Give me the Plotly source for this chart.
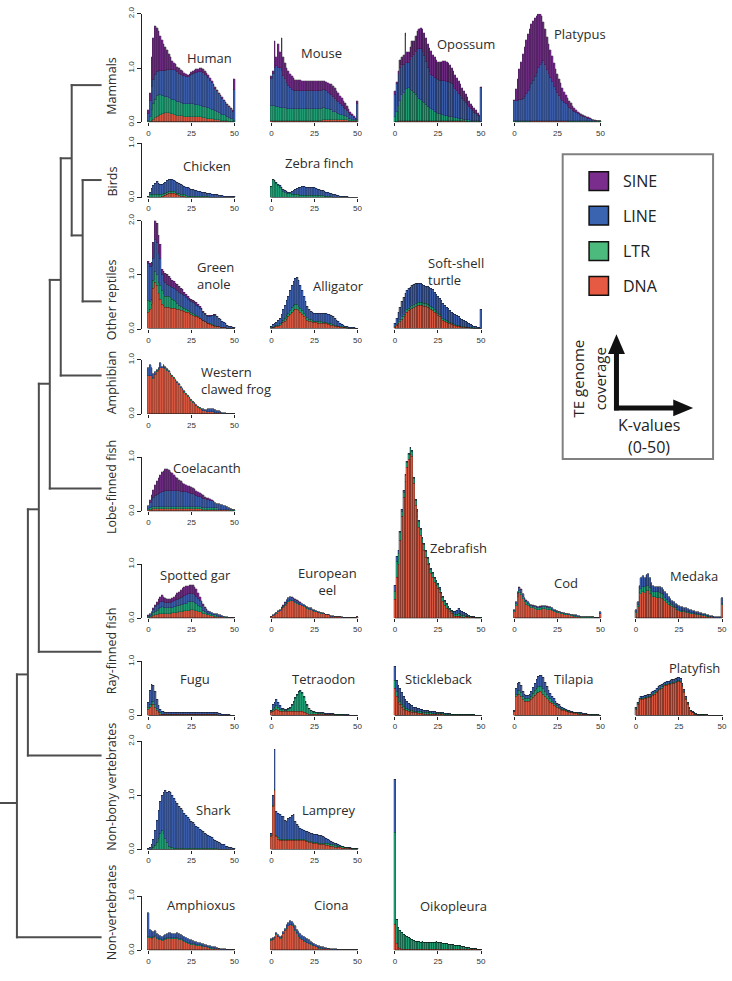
import plotly.graph_objects as go

K = list(range(51))
LAYERS = ["DNA", "LTR", "LINE", "SINE"]  # stacking order, bottom -> top
BAR_COLORS = {"SINE": "#6b2a80", "LINE": "#3a5ca8", "LTR": "#1f9c72", "DNA": "#d6563f"}
LEGEND_COLORS = {"SINE": "#7b2d8e", "LINE": "#3a63b0", "LTR": "#4cba7c", "DNA": "#e65a43"}

# ---------------- data (TE genome coverage per K-value 0..50) ----------------
human = dict(
    DNA=[0.00,0.01,0.03,0.05,0.08,0.10,0.12,0.14,0.15,0.16,0.17,0.17,0.17,0.16,0.15,0.14,0.13,0.12,0.12,0.11,0.11,0.10,0.10,0.10,0.10,0.10,0.10,0.10,0.10,0.09,0.09,0.09,0.08,0.08,0.07,0.07,0.06,0.06,0.05,0.05,0.04,0.04,0.03,0.03,0.02,0.02,0.02,0.01,0.01,0.01,0.00],
    LTR=[0.03,0.09,0.19,0.28,0.34,0.38,0.38,0.36,0.34,0.32,0.30,0.29,0.28,0.28,0.27,0.27,0.27,0.26,0.25,0.24,0.23,0.23,0.23,0.23,0.23,0.23,0.23,0.22,0.22,0.23,0.22,0.21,0.21,0.20,0.20,0.19,0.18,0.17,0.17,0.16,0.15,0.13,0.13,0.11,0.11,0.09,0.08,0.07,0.06,0.05,0.02],
    LINE=[0.12,0.30,0.43,0.45,0.46,0.45,0.45,0.45,0.46,0.47,0.48,0.50,0.51,0.53,0.55,0.55,0.55,0.55,0.53,0.53,0.52,0.52,0.51,0.51,0.53,0.55,0.57,0.59,0.60,0.61,0.62,0.63,0.62,0.60,0.58,0.55,0.53,0.49,0.45,0.41,0.38,0.35,0.32,0.30,0.27,0.25,0.22,0.20,0.17,0.14,0.58],
    SINE=[0.07,0.15,0.55,0.77,0.90,0.82,0.73,0.65,0.57,0.50,0.45,0.37,0.31,0.23,0.17,0.14,0.12,0.10,0.10,0.09,0.08,0.06,0.05,0.04,0.04,0.05,0.05,0.06,0.06,0.06,0.07,0.07,0.07,0.07,0.06,0.06,0.05,0.05,0.04,0.03,0.03,0.03,0.02,0.02,0.02,0.02,0.02,0.02,0.02,0.02,0.20],
)
mouse = dict(
    DNA=[0.02]*30 + [0.04]*15 + [0.02]*6,
    LTR=[0.28,0.28,0.28,0.27,0.26,0.25,0.25,0.24,0.24,0.23,0.23,0.23,0.23,0.23,0.23,0.23,0.23,0.23,0.23,0.23,0.23,0.23,0.23,0.23,0.23,0.23,0.23,0.23,0.23,0.23,0.23,0.22,0.21,0.20,0.19,0.18,0.16,0.15,0.13,0.12,0.10,0.09,0.08,0.07,0.06,0.05,0.04,0.03,0.02,0.02,0.02],
    LINE=[0.50,0.60,0.70,0.75,0.72,0.73,0.68,0.60,0.54,0.47,0.42,0.38,0.35,0.33,0.33,0.33,0.33,0.33,0.33,0.33,0.33,0.33,0.33,0.33,0.33,0.33,0.33,0.33,0.33,0.33,0.33,0.33,0.32,0.31,0.30,0.29,0.27,0.25,0.23,0.21,0.19,0.17,0.15,0.13,0.11,0.10,0.08,0.06,0.04,0.02,0.30],
    SINE=[0.05,0.05,0.50,0.16,0.45,0.30,0.60,0.34,0.30,0.28,0.28,0.27,0.25,0.24,0.20,0.20,0.20,0.20,0.19,0.19,0.19,0.19,0.19,0.19,0.19,0.18,0.18,0.18,0.18,0.18,0.17,0.17,0.17,0.17,0.17,0.20,0.20,0.19,0.18,0.17,0.16,0.15,0.13,0.11,0.09,0.07,0.06,0.05,0.03,0.02,0.06],
)
opossum = dict(
    DNA=[0.00,0.01] + [0.03]*24 + [0.02]*15 + [0.01]*10,
    LTR=[0.10,0.19,0.27,0.37,0.47,0.52,0.57,0.59,0.60,0.57,0.54,0.51,0.47,0.44,0.41,0.38,0.35,0.32,0.29,0.26,0.23,0.21,0.19,0.17,0.15,0.13,0.13,0.12,0.11,0.10,0.09,0.08,0.08,0.07,0.07,0.06,0.06,0.05,0.04,0.04,0.03,0.04,0.03,0.03,0.02,0.02,0.02,0.01,0.01,0.01,0.00],
    LINE=[0.40,0.50,0.60,0.60,0.55,0.50,1.00,0.48,0.47,0.55,0.63,0.71,0.80,0.86,0.91,0.95,0.92,0.87,0.80,0.71,0.67,0.64,0.63,0.62,0.62,0.62,0.61,0.62,0.63,0.64,0.64,0.64,0.62,0.61,0.57,0.54,0.49,0.46,0.42,0.38,0.35,0.31,0.28,0.24,0.22,0.18,0.15,0.13,0.10,0.08,0.63],
    SINE=[0.08,0.05,0.05,0.15,0.15,0.20,0.05,0.20,0.20,0.25,0.30,0.25,0.30,0.35,0.37,0.39,0.42,0.43,0.43,0.45,0.45,0.44,0.40,0.38,0.35,0.34,0.36,0.36,0.37,0.37,0.37,0.36,0.33,0.30,0.29,0.26,0.25,0.23,0.22,0.20,0.18,0.16,0.14,0.12,0.09,0.09,0.08,0.07,0.06,0.04,0.01],
)
platypus = dict(
    DNA=[0.01]*10 + [0.02]*21 + [0.01]*20,
    LTR=[0.01]*51,
    LINE=[0.38,0.38,0.38,0.39,0.40,0.42,0.45,0.50,0.56,0.62,0.67,0.73,0.81,0.89,0.97,1.03,1.07,1.10,1.02,0.93,0.87,0.79,0.71,0.63,0.57,0.51,0.46,0.41,0.37,0.33,0.30,0.28,0.25,0.22,0.19,0.17,0.15,0.13,0.11,0.10,0.08,0.07,0.06,0.05,0.04,0.03,0.02,0.01,0.00,0.00,0.00],
    SINE=[0.02,0.21,0.40,0.57,0.70,0.82,0.93,1.00,1.05,1.08,1.11,1.12,1.09,1.05,1.00,0.94,0.86,0.72,0.67,0.62,0.55,0.52,0.48,0.44,0.38,0.36,0.31,0.28,0.23,0.20,0.17,0.15,0.13,0.11,0.10,0.08,0.06,0.05,0.04,0.03,0.03,0.03,0.02,0.02,0.02,0.02,0.01,0.01,0.01,0.00,0.01],
)
chicken = dict(
    DNA=[0.01,0.01,0.01,0.01,0.01,0.01,0.01,0.01,0.02,0.03,0.04,0.06,0.07,0.08,0.08,0.07,0.06,0.05,0.04,0.03,0.02,0.02,0.01,0.01,0.01,0.01,0.01,0.01,0.01,0.01,0.01,0.01,0.01,0.01,0.01,0.01,0,0,0,0,0,0,0,0,0,0,0,0,0,0,0],
    LTR=[0.02,0.04,0.05,0.05,0.05,0.05,0.04,0.04,0.04,0.04,0.04,0.04,0.04,0.04,0.04,0.04,0.03,0.03,0.03,0.03,0.03,0.03,0.03,0.02,0.02,0.02,0.02,0.02,0.02,0.02,0.02,0.02,0.01,0.01,0.01,0.01,0.01,0.01,0.01,0.01,0.01,0.01,0.01,0.01,0.01,0.01,0.01,0,0,0,0],
    LINE=[0.00,0.05,0.11,0.16,0.21,0.24,0.22,0.20,0.18,0.19,0.20,0.21,0.22,0.22,0.21,0.21,0.21,0.20,0.19,0.18,0.17,0.15,0.15,0.15,0.14,0.13,0.12,0.11,0.10,0.09,0.08,0.07,0.07,0.07,0.06,0.05,0.06,0.05,0.05,0.04,0.04,0.03,0.03,0.03,0.02,0.02,0.02,0.02,0.02,0.02,0.02],
    SINE=[0]*51,
)
zebra_finch = dict(
    DNA=[0]*10 + [0.01]*21 + [0]*20,
    LTR=[0.20,0.33,0.30,0.26,0.22,0.19,0.15,0.12,0.10,0.08,0.07,0.06,0.05,0.05,0.04,0.04,0.04,0.03,0.03,0.03,0.03,0.03,0.03,0.03,0.03,0.03,0.03,0.03,0.03,0.03,0.03,0.02,0.02,0.02,0.02,0.02,0.01,0.01,0.01,0.01,0.01,0.01,0.01,0.01,0.01,0,0,0,0,0,0],
    LINE=[0.00,0.00,0.02,0.02,0.03,0.03,0.03,0.03,0.03,0.03,0.02,0.03,0.05,0.07,0.10,0.12,0.13,0.15,0.16,0.16,0.15,0.15,0.15,0.15,0.15,0.14,0.13,0.12,0.11,0.10,0.09,0.10,0.08,0.07,0.06,0.05,0.05,0.04,0.03,0.03,0.02,0.02,0.01,0.01,0.01,0.01,0.01,0.01,0.01,0.01,0.01],
    SINE=[0]*51,
)
green_anole = dict(
    DNA=[0.30,0.35,0.45,0.75,0.85,0.80,0.65,0.55,0.45,0.43,0.40,0.40,0.39,0.38,0.38,0.38,0.37,0.36,0.35,0.34,0.33,0.32,0.31,0.30,0.28,0.27,0.25,0.23,0.22,0.21,0.20,0.17,0.15,0.13,0.11,0.09,0.08,0.07,0.06,0.05,0.04,0.04,0.03,0.03,0.02,0.02,0.01,0.01,0.01,0.01,0.00],
    LTR=[0.23,0.15,0.10,0.15,0.20,0.20,0.20,0.25,0.25,0.22,0.20,0.20,0.21,0.20,0.17,0.14,0.13,0.11,0.09,0.08,0.07,0.06,0.05,0.04,0.04,0.03,0.03,0.03,0.02,0.01,0.00,0.01,0.01,0.01,0.01,0.01,0.01,0.01,0.01,0.01,0.01,0,0,0,0,0,0,0,0,0,0],
    LINE=[0.67,0.65,0.60,0.40,0.60,0.60,0.55,0.50,0.30,0.25,0.25,0.22,0.20,0.20,0.21,0.22,0.22,0.23,0.24,0.24,0.24,0.23,0.22,0.21,0.20,0.20,0.20,0.20,0.20,0.20,0.18,0.17,0.15,0.13,0.12,0.13,0.14,0.16,0.18,0.19,0.18,0.16,0.14,0.11,0.09,0.07,0.06,0.04,0.03,0.02,0.02],
    SINE=[0.05,0.05,0.07,0.30,0.35,0.35,0.32,0.25,0.10,0.15,0.17,0.18,0.17,0.15,0.14,0.13,0.12,0.11,0.10,0.09,0.08,0.07,0.06,0.05,0.04,0.04,0.04,0.04,0.04,0.03,0.03,0.02,0.01,0.01,0.01,0.01,0.01,0.01,0.01,0.01,0,0,0,0,0,0,0,0,0,0,0],
)
alligator = dict(
    DNA=[0.01,0.02,0.03,0.04,0.05,0.07,0.09,0.11,0.14,0.18,0.22,0.26,0.30,0.33,0.35,0.35,0.33,0.30,0.26,0.22,0.19,0.16,0.14,0.13,0.12,0.11,0.11,0.10,0.10,0.10,0.10,0.09,0.09,0.08,0.08,0.07,0.06,0.05,0.05,0.04,0.03,0.03,0.02,0.02,0.01,0.01,0.01,0.01,0.01,0.00,0.00],
    LTR=[0.01,0.01,0.01,0.02,0.02,0.03,0.03,0.04,0.05,0.06,0.07,0.08,0.09,0.10,0.10,0.10,0.09,0.08,0.07,0.06,0.05,0.05,0.04,0.04,0.03,0.03,0.03,0.03,0.03,0.03,0.02,0.02,0.02,0.02,0.02,0.02,0.02,0.01,0.01,0.01,0.01,0.01,0.01,0.01,0.01,0,0,0,0,0,0],
    LINE=[0.03,0.05,0.06,0.06,0.08,0.10,0.15,0.20,0.24,0.28,0.31,0.36,0.41,0.45,0.48,0.50,0.48,0.42,0.37,0.32,0.26,0.21,0.18,0.15,0.15,0.15,0.14,0.15,0.15,0.15,0.16,0.17,0.17,0.17,0.16,0.15,0.14,0.13,0.10,0.08,0.06,0.04,0.04,0.02,0.02,0.02,0.02,0.01,0.01,0.01,0.01],
    SINE=[0]*51,
)
softshell_turtle = dict(
    DNA=[0.03,0.06,0.10,0.14,0.18,0.22,0.26,0.30,0.33,0.36,0.38,0.40,0.42,0.43,0.44,0.44,0.43,0.42,0.41,0.40,0.38,0.36,0.34,0.31,0.28,0.25,0.22,0.19,0.16,0.14,0.12,0.10,0.09,0.08,0.07,0.06,0.05,0.04,0.04,0.03,0.03,0.02,0.02,0.02,0.01,0.01,0.01,0.01,0.00,0.00,0.00],
    LTR=[0.01,0.02,0.03,0.04,0.05,0.05,0.05,0.05,0.05,0.05,0.05,0.05,0.05,0.05,0.05,0.05,0.05,0.05,0.05,0.05,0.05,0.05,0.05,0.04,0.04,0.04,0.04,0.04,0.03,0.03,0.03,0.03,0.02,0.02,0.02,0.02,0.02,0.02,0.01,0.01,0.01,0.01,0.01,0.01,0.01,0.01,0,0,0,0,0],
    LINE=[0.06,0.12,0.17,0.22,0.27,0.31,0.34,0.35,0.36,0.36,0.37,0.37,0.36,0.36,0.35,0.34,0.33,0.33,0.33,0.33,0.33,0.33,0.33,0.33,0.32,0.31,0.30,0.29,0.28,0.27,0.25,0.24,0.23,0.21,0.19,0.18,0.17,0.16,0.15,0.14,0.12,0.11,0.09,0.07,0.06,0.05,0.04,0.03,0.03,0.02,0.35],
    SINE=[0]*51,
)
western_clawed_frog = dict(
    DNA=[0.70,0.70,0.70,0.65,0.72,0.78,0.82,0.85,0.85,0.86,0.84,0.80,0.77,0.73,0.69,0.65,0.61,0.57,0.53,0.48,0.44,0.40,0.36,0.32,0.28,0.25,0.21,0.18,0.15,0.12,0.10,0.08,0.06,0.05,0.04,0.04,0.04,0.04,0.04,0.03,0.03,0.02,0.02,0.01,0.01,0.01,0,0,0,0,0],
    LTR=[0.01]*31 + [0]*20,
    LINE=[0.15,0.19,0.14,0.09,0.05,0.03,0.02,0.09,0.02,0.03,0.02,0.02,0.01,0.01,0.01,0.01,0.01,0.01,0.01,0.01,0.01,0.01,0.01,0.01,0.01,0.01,0.01,0.01,0.01,0.01,0.01,0.02,0.03,0.03,0.04,0.05,0.06,0.06,0.05,0.05,0.03,0.03,0.02,0.02,0.01,0.01,0.01,0.01,0.01,0.00,0.00],
    SINE=[0]*51,
)
coelacanth = dict(
    DNA=[0.02,0.03,0.03] + [0.04]*28 + [0.03]*10 + [0.02]*7 + [0.01]*3,
    LTR=[0.02,0.03] + [0.04]*29 + [0.03]*10 + [0.01]*10,
    LINE=[0.06,0.09,0.13,0.17,0.20,0.22,0.24,0.26,0.27,0.28,0.29,0.30,0.30,0.30,0.30,0.30,0.29,0.29,0.29,0.28,0.28,0.27,0.27,0.26,0.25,0.24,0.23,0.22,0.20,0.19,0.18,0.18,0.17,0.16,0.15,0.14,0.13,0.12,0.11,0.10,0.08,0.10,0.09,0.08,0.07,0.06,0.04,0.03,0.02,0.01,0.00],
    SINE=[0.00,0.05,0.10,0.15,0.20,0.25,0.30,0.33,0.37,0.39,0.40,0.40,0.38,0.35,0.32,0.29,0.27,0.24,0.21,0.19,0.16,0.15,0.13,0.13,0.13,0.13,0.12,0.11,0.10,0.08,0.07,0.07,0.06,0.05,0.04,0.04,0.03,0.02,0.01,0,0,0,0,0,0,0,0,0,0,0,0],
)
spotted_gar = dict(
    DNA=[0.01,0.02,0.03,0.04,0.05,0.06,0.07,0.08,0.08,0.08,0.08,0.08,0.08,0.08,0.09,0.09,0.10,0.10,0.11,0.11,0.12,0.13,0.13,0.14,0.14,0.15,0.15,0.14,0.13,0.12,0.11,0.10,0.08,0.07,0.06,0.05,0.04,0.04,0.03,0.03,0.03,0.02,0.02,0.02,0.01,0.01,0.01,0.01,0,0,0],
    LTR=[0.01,0.02,0.03,0.05,0.07,0.08,0.10,0.11,0.12,0.11,0.10,0.10,0.10,0.10,0.10,0.11,0.11,0.12,0.12,0.13,0.13,0.14,0.14,0.15,0.15,0.15,0.15,0.14,0.13,0.11,0.09,0.08,0.06,0.05,0.04,0.03,0.03,0.02,0.02,0.02,0.01,0.01,0.01,0.01,0.01,0,0,0,0,0,0],
    LINE=[0.02,0.03,0.05,0.07,0.09,0.10,0.10,0.10,0.10,0.10,0.10,0.10,0.10,0.10,0.10,0.11,0.12,0.12,0.13,0.14,0.14,0.14,0.15,0.15,0.15,0.15,0.15,0.15,0.14,0.13,0.11,0.09,0.08,0.06,0.05,0.04,0.04,0.03,0.03,0.03,0.03,0.03,0.02,0.01,0.01,0.01,0.01,0.00,0.01,0.01,0.01],
    SINE=[0.01,0.01,0.01,0.02,0.04,0.06,0.09,0.11,0.12,0.11,0.09,0.08,0.07,0.08,0.09,0.09,0.10,0.12,0.13,0.14,0.16,0.16,0.17,0.16,0.17,0.17,0.16,0.15,0.13,0.10,0.08,0.05,0.04,0.03,0.02,0.02,0.01,0.01,0,0,0,0,0,0,0,0,0,0,0,0,0],
)
european_eel = dict(
    DNA=[0.02,0.04,0.06,0.08,0.11,0.13,0.16,0.19,0.23,0.27,0.30,0.32,0.31,0.30,0.28,0.27,0.25,0.24,0.22,0.21,0.19,0.17,0.16,0.15,0.13,0.12,0.11,0.10,0.09,0.08,0.07,0.07,0.06,0.05,0.04,0.03,0.03,0.03,0.02,0.02,0.02,0.01,0.01,0.01,0.01,0.01,0.01,0.00,0.00,0.00,0.02],
    LTR=[0,0,0] + [0.01]*28 + [0]*20,
    LINE=[0.01,0.01,0.01,0.01,0.01,0.02,0.02,0.03,0.04,0.05,0.06,0.06,0.06,0.05,0.05,0.04,0.04,0.03,0.03,0.02,0.02,0.03,0.02,0.02,0.02,0.02,0.01,0.01,0.01,0.01,0.01,0.00,0.00,0.00,0.01,0.01,0.01,0.00,0.01,0.00,0.00,0.01,0,0,0,0,0,0.01,0.01,0.01,0],
    SINE=[0]*6 + [0.01]*15 + [0]*30,
)
zebrafish = dict(
    DNA=[0.35,0.75,1.00,1.43,1.88,2.23,2.53,2.78,2.93,3.03,2.98,2.48,2.08,1.88,1.68,1.53,1.38,1.26,1.13,1.00,0.90,0.83,0.75,0.67,0.61,0.55,0.47,0.39,0.31,0.24,0.18,0.16,0.12,0.09,0.05,0.03,0.03,0.04,0.03,0.02,0.01,0.03,0.03,0.02,0.02,0.01,0.01,0,0,0,0],
    LTR=[0.15,0.30,0.20,0.15] + [0.10]*17 + [0.07]*10 + [0.04]*10 + [0.01]*10,
    LINE=[0.10,0.10,0.05] + [0.02]*31 + [0.03,0.05,0.08,0.10,0.08,0.06,0.05,0.04,0.03,0.02,0.01,0.01,0.01,0.01,0.01,0.01,0.01],
    SINE=[0]*51,
)
cod = dict(
    DNA=[0.11,0.23,0.39,0.46,0.42,0.35,0.30,0.25,0.22,0.20,0.19,0.18,0.17,0.16,0.15,0.16,0.17,0.17,0.17,0.16,0.15,0.15,0.13,0.11,0.11,0.10,0.09,0.08,0.07,0.06,0.05,0.05,0.05,0.04,0.04,0.03,0.03,0.02,0.02,0.01,0.01,0.01,0.01,0.01,0.01,0.01,0.01,0.01,0.01,0.01,0.08],
    LTR=[0.02,0.04,0.05,0.05,0.05,0.05,0.04,0.04,0.04,0.03,0.03,0.03,0.03,0.03,0.03,0.03,0.03,0.03,0.03,0.03,0.03,0.03,0.03,0.03,0.02,0.02,0.02,0.02,0.02,0.02,0.02,0.02,0.01,0.01,0.01,0.01,0.01,0.01,0.01,0.01,0.01,0.01,0.01,0.01,0.01,0.01,0.01,0,0,0,0],
    LINE=[0.02,0.03,0.04,0.05,0.05,0.04,0.03,0.03,0.03,0.03,0.02,0.02,0.02,0.02,0.02,0.02,0.02,0.02,0.02,0.02,0.02,0.02,0.02,0.02,0.02,0.02,0.01,0.01,0.01,0.01,0.01,0.01,0.01,0.01,0.01,0.01,0.01,0.01,0.01,0.01,0.01,0.01,0,0,0,0,0,0,0,0,0.04],
    SINE=[0,0] + [0.01]*19 + [0]*30,
)
medaka = dict(
    DNA=[0.10,0.20,0.40,0.45,0.48,0.47,0.50,0.50,0.45,0.42,0.40,0.39,0.38,0.38,0.37,0.36,0.34,0.31,0.28,0.25,0.23,0.20,0.18,0.16,0.15,0.13,0.12,0.12,0.11,0.10,0.10,0.09,0.08,0.08,0.07,0.06,0.06,0.05,0.05,0.04,0.04,0.03,0.03,0.02,0.02,0.02,0.01,0.01,0.01,0.01,0.25],
    LTR=[0.02,0.04,0.07,0.09,0.10,0.10,0.10,0.10,0.10,0.09,0.09,0.09,0.10,0.10,0.10,0.09,0.08,0.07,0.06,0.05,0.04,0.04,0.03,0.03,0.03,0.02,0.02,0.02,0.02,0.02,0.02,0.02,0.02,0.02,0.01,0.01,0.01,0.01,0.01,0.01,0.01,0.01,0.01,0.01,0.01,0,0,0,0,0,0.02],
    LINE=[0.03,0.06,0.13,0.21,0.20,0.18,0.20,0.22,0.20,0.14,0.11,0.10,0.10,0.10,0.10,0.10,0.10,0.10,0.10,0.10,0.09,0.08,0.08,0.07,0.06,0.07,0.07,0.06,0.06,0.06,0.05,0.05,0.05,0.04,0.05,0.05,0.04,0.04,0.03,0.03,0.02,0.02,0.01,0.01,0.01,0.01,0.02,0.01,0.01,0.01,0.10],
    SINE=[0]*51,
)
fugu = dict(
    DNA=[0.12,0.15,0.20,0.20,0.15,0.10,0.05,0.03] + [0.02]*33 + [0.01]*10,
    LTR=[0.03,0.05,0.06,0.06,0.05,0.04,0.03,0.02] + [0.01]*33 + [0]*10,
    LINE=[0.10,0.26,0.32,0.29,0.25,0.16,0.10,0.07,0.05,0.04] + [0.03]*17 + [0.02]*14 + [0.03,0.03,0.02,0.02,0.01,0.01,0.01,0,0,0],
    SINE=[0]*51,
)
tetraodon = dict(
    DNA=[0.06,0.08,0.10,0.12,0.10,0.08,0.07,0.07,0.07,0.07,0.07,0.07,0.07,0.07,0.07,0.07,0.07,0.07,0.07,0.06,0.05,0.04,0.03,0.03,0.02,0.02,0.02,0.02,0.02,0.02,0.02,0.02,0.02,0.02,0.02,0.02,0.02,0.01,0.01,0.01,0.01,0.01,0.01,0.01,0.01,0.01,0.01,0,0,0,0],
    LTR=[0.02,0.04,0.05,0.06,0.05,0.04,0.04,0.04,0.03,0.03,0.04,0.06,0.11,0.18,0.24,0.31,0.36,0.38,0.34,0.27,0.20,0.14,0.10,0.06,0.05,0.04,0.03,0.02,0.02,0.02,0.02,0.01,0.01,0.01,0.01,0.01,0.01,0.01,0.01,0.01,0.01,0.01,0,0,0,0,0,0.01,0.01,0.01,0.01],
    LINE=[0.02,0.08,0.10,0.12,0.10,0.06,0.03] + [0.02]*15 + [0.01]*24 + [0]*5,
    SINE=[0]*51,
)
stickleback = dict(
    DNA=[0.50,0.35,0.25,0.20,0.15,0.12,0.10,0.09,0.08,0.07,0.06,0.05,0.05,0.05,0.04,0.04,0.04,0.03,0.03,0.03,0.03,0.03,0.02,0.02,0.02,0.02,0.02,0.02,0.02] + [0.01]*18 + [0]*4,
    LTR=[0.15,0.10,0.08,0.07,0.06,0.05,0.04,0.04,0.03,0.03,0.03,0.03,0.03,0.03,0.03,0.03] + [0.02]*17 + [0.01]*18,
    LINE=[0.25,0.20,0.22,0.23,0.21,0.19,0.16,0.13,0.12,0.10,0.09,0.08,0.07,0.06,0.06,0.05,0.05,0.05,0.04,0.04,0.03,0.03,0.03,0.03,0.02,0.02] + [0.01]*15 + [0]*10,
    SINE=[0]*51,
)
tilapia = dict(
    DNA=[0.07,0.35,0.40,0.40,0.36,0.30,0.27,0.26,0.26,0.27,0.30,0.34,0.38,0.41,0.43,0.44,0.43,0.40,0.36,0.32,0.28,0.25,0.22,0.19,0.17,0.15,0.13,0.11,0.10,0.09,0.08,0.07,0.06,0.05,0.05,0.04,0.04,0.03,0.03,0.03,0.02,0.02,0.02,0.02,0.01,0.01,0.01,0.01,0.01,0.01,0.00],
    LTR=[0.01,0.05,0.06,0.07,0.06,0.05,0.05,0.05,0.05,0.05,0.06,0.07,0.08,0.09,0.10,0.10,0.10,0.10,0.09,0.08,0.07,0.06,0.05,0.04,0.04,0.03,0.03,0.03,0.02,0.02] + [0.01]*21,
    LINE=[0.02,0.10,0.14,0.15,0.13,0.10,0.08,0.07,0.07,0.08,0.09,0.11,0.14,0.16,0.19,0.21,0.21,0.20,0.17,0.14,0.12,0.10,0.09,0.08,0.06,0.05,0.04,0.03,0.03,0.02,0.02,0.02,0.02,0.02,0.01,0.01,0.01,0.01,0.01,0.01,0.01,0.01,0.01,0,0,0,0,0,0,0,0],
    SINE=[0]*51,
)
platyfish = dict(
    DNA=[0.11,0.20,0.26,0.29,0.30,0.31,0.32,0.33,0.34,0.36,0.38,0.40,0.43,0.46,0.49,0.51,0.53,0.55,0.56,0.57,0.58,0.59,0.60,0.61,0.63,0.63,0.61,0.53,0.42,0.30,0.21,0.13,0.08,0.05,0.03,0.02,0.01,0.01,0.01,0.01,0.01,0.02,0.01,0.01,0.01,0.01,0.01,0.01,0,0,0],
    LTR=[0.02]*31 + [0.01]*10 + [0]*10,
    LINE=[0.02,0.03] + [0.04]*10 + [0.05]*16 + [0.04,0.03,0.02,0.02,0.01,0.01,0.01,0.01,0.01] + [0]*14,
    SINE=[0]*51,
)
shark = dict(
    DNA=[0,0,0] + [0.01]*38 + [0]*10,
    LTR=[0,0,0.01,0.03,0.07,0.12,0.20,0.30,0.35,0.30,0.20,0.12,0.06,0.04,0.03] + [0.02]*16 + [0.01]*15 + [0]*5,
    LINE=[0.02,0.05,0.09,0.16,0.27,0.42,0.51,0.59,0.64,0.74,0.89,0.92,1.01,1.00,0.96,0.92,0.87,0.82,0.77,0.73,0.69,0.65,0.61,0.57,0.53,0.50,0.47,0.44,0.41,0.38,0.35,0.33,0.31,0.28,0.26,0.24,0.22,0.20,0.18,0.16,0.14,0.13,0.11,0.09,0.08,0.06,0.06,0.05,0.04,0.03,0.02],
    SINE=[0]*51,
)
lamprey = dict(
    DNA=[0.25,0.80,1.10,0.25,0.20,0.18] + [0.17]*14 + [0.16,0.15,0.14,0.13,0.12,0.12,0.11,0.11,0.10,0.10,0.10,0.09,0.08,0.08,0.07,0.07,0.06,0.05,0.05,0.04,0.04,0.03,0.03,0.02,0.02,0.02,0.02,0.01,0.01,0.01,0.01],
    LTR=[0.02]*31 + [0.03]*15 + [0.01]*5,
    LINE=[0.03,0.18,0.73,0.43,0.46,0.45,0.43,0.43,0.36,0.34,0.38,0.41,0.44,0.46,0.33,0.28,0.25,0.21,0.19,0.17,0.16,0.16,0.16,0.16,0.16,0.15,0.16,0.15,0.15,0.14,0.12,0.11,0.10,0.09,0.08,0.06,0.05,0.04,0.03,0.02,0.01,0.01,0,0,0,0,0.01,0.01,0.01,0,0],
    SINE=[0]*51,
)
amphioxus = dict(
    DNA=[0.22,0.22,0.20,0.22,0.24,0.20,0.18,0.18,0.17,0.18,0.19,0.20,0.20,0.21,0.20,0.20,0.20,0.20,0.19,0.18,0.17,0.15,0.14,0.12,0.11,0.10,0.10,0.09,0.08,0.08,0.07,0.06,0.06,0.05,0.05,0.04,0.03,0.03,0.03,0.02,0.02,0.02,0.01,0.01,0.01,0.01,0,0,0,0,0],
    LTR=[0.02]*31 + [0.01]*10 + [0]*10,
    LINE=[0.44,0.14,0.13,0.09,0.09,0.08,0.08,0.06,0.06,0.06,0.07,0.08,0.09,0.08,0.08,0.08,0.08,0.09,0.09,0.08,0.07,0.07,0.06,0.06,0.06,0.06,0.05,0.05,0.05,0.04,0.04,0.05,0.04,0.04,0.03,0.03,0.03,0.02,0.01,0.02,0.01,0.01,0.02,0.01,0.01,0.01,0.01,0.01,0.01,0.01,0.01],
    SINE=[0]*51,
)
ciona = dict(
    DNA=[0.17,0.19,0.22,0.28,0.24,0.21,0.23,0.29,0.35,0.40,0.44,0.46,0.45,0.41,0.36,0.30,0.25,0.21,0.18,0.16,0.15,0.13,0.11,0.10,0.08,0.07,0.05,0.04,0.03,0.03,0.02,0.02,0.02,0.02,0.02,0.01,0.01,0.01,0.01,0.00,0.01,0.01,0.01,0.01,0.01,0.01,0,0,0,0,0],
    LTR=[0.01]*31 + [0]*20,
    LINE=[0.02,0.02,0.02,0.03,0.03,0.03,0.03,0.03,0.04,0.05,0.05,0.06,0.06,0.06,0.07,0.07,0.07,0.07,0.07,0.07,0.06,0.06,0.06,0.05,0.05,0.04,0.04,0.03,0.03,0.02,0.02,0.02,0.02,0.01,0.01,0.01,0.01,0.01,0.01,0.01,0,0,0,0,0,0,0,0,0,0,0],
    SINE=[0]*51,
)
oikopleura = dict(
    DNA=[0.48,0.13,0.05,0.03,0.02] + [0.01]*46,
    LTR=[1.70,0.43,0.38,0.33,0.30,0.28,0.26,0.25,0.23,0.21,0.19,0.17,0.16,0.15,0.16,0.14,0.15,0.14,0.13,0.14,0.14,0.13,0.14,0.14,0.15,0.14,0.13,0.14,0.12,0.12,0.11,0.10,0.10,0.09,0.09,0.08,0.08,0.07,0.07,0.06,0.06,0.05,0.05,0.04,0.03,0.03,0.02,0.02,0.01,0.01,0.00],
    LINE=[0.97] + [0]*50,
    SINE=[0]*51,
)

X_TICKS = [0, 25, 50]
Y_TICKS_1 = [0, 1]
Y_TICKS_2 = [0, 1, 2]

# ---------------- layout geometry (pixels in a 732 x 981 page) ----------------
W, H = 732, 981
PX_PER_K = 1.73
PX_PER_UNIT = 54.8
COL_X0 = [149, 272.5, 396.5, 516.5, 638.5]
ROWS = {  # baseline pixel, y-axis max
    "mam": (116.5, 2), "bird": (192.7, 1), "rep": (325.7, 2), "amph": (411.7, 1),
    "lobe": (510.0, 1), "ray1": (618.3, 1), "ray2": (716.7, 1), "nonbony": (852.3, 2),
    "nonvert": (954.0, 1),
}

# (data, col, row, ymax override, label, label x, label y, label anchor)
panels = [
    (human, 0, "mam", None, "Human", 210, 52, "center"),
    (mouse, 1, "mam", None, "Mouse", 323, 47, "center"),
    (opossum, 2, "mam", None, "Opossum", 468, 37, "center"),
    (platypus, 3, "mam", None, "Platypus", 582, 27, "center"),
    (chicken, 0, "bird", None, "Chicken", 208, 161, "center"),
    (zebra_finch, 1, "bird", None, "Zebra finch", 320, 158, "center"),
    (green_anole, 0, "rep", None, "Green<br>anole", 196, 272, "left"),
    (alligator, 1, "rep", None, "Alligator", 312, 282, "left"),
    (softshell_turtle, 2, "rep", None, "Soft-shell<br>turtle", 428, 267, "left"),
    (western_clawed_frog, 0, "amph", None, "Western<br>clawed frog", 200, 378, "left"),
    (coelacanth, 0, "lobe", None, "Coelacanth", 208, 466, "center"),
    (spotted_gar, 0, "ray1", None, "Spotted gar", 196, 574, "center"),
    (european_eel, 1, "ray1", None, "European<br>eel", 329, 581, "center"),
    (zebrafish, 2, "ray1", 3.3, "Zebrafish", 460, 547, "center"),
    (cod, 3, "ray1", None, "Cod", 568, 583, "center"),
    (medaka, 4, "ray1", None, "Medaka", 697, 575, "center"),
    (fugu, 0, "ray2", None, "Fugu", 196, 680, "center"),
    (tetraodon, 1, "ray2", None, "Tetraodon", 325, 680, "center"),
    (stickleback, 2, "ray2", None, "Stickleback", 440, 680, "center"),
    (tilapia, 3, "ray2", None, "Tilapia", 576, 680, "center"),
    (platyfish, 4, "ray2", None, "Platyfish", 697, 668, "center"),
    (shark, 0, "nonbony", None, "Shark", 214, 812, "center"),
    (lamprey, 1, "nonbony", None, "Lamprey", 330, 812, "center"),
    (amphioxus, 0, "nonvert", None, "Amphioxus", 202, 908, "center"),
    (ciona, 1, "nonvert", None, "Ciona", 333, 908, "center"),
    (oikopleura, 2, "nonvert", 3.3, "Oikopleura", 455, 909, "center"),
]

groups = [
    ("Mammals", 80), ("Birds", 177), ("Other reptiles", 296), ("Amphibian", 380),
    ("Lobe-finned fish", 486), ("Ray-finned fish", 651), ("Non-bony vertebrates", 789),
    ("Non-vertebrates", 916),
]

# dendrogram segments (pixels)
tree_h = [(79, 72, 102), (175, 83, 102), (297.7, 83, 102), (231, 72, 83), (153, 61, 72),
          (372.7, 61, 102), (276, 50, 61), (487, 50, 102), (381, 39, 50), (652, 39, 102),
          (508, 28, 39), (757, 28, 102), (675, 17, 28), (940.7, 17, 102), (805, 0, 17)]
tree_v = [(83, 175, 297.7), (72, 79, 231), (61, 153, 372.7), (50, 276, 487),
          (39, 381, 652), (28, 508, 757), (17, 675, 940.7)]


def px(x):
    return x / W


def py(y):
    return 1 - y / H


TEXT_FONT = "Open Sans, Noto Sans, sans-serif"
TICK_FONT = dict(family="Liberation Sans, Arial, sans-serif", size=8, color="#333")

fig = go.Figure()
layout = dict(
    width=W, height=H, margin=dict(l=0, r=0, t=0, b=0),
    paper_bgcolor="white", plot_bgcolor="rgba(0,0,0,0)",
    barmode="stack", bargap=0, showlegend=False,
)
shapes = []
annotations = []

for i, (data, col, row, ymax_o, label, lx, ly, anchor) in enumerate(panels, start=1):
    base, rmax = ROWS[row]
    ymax = ymax_o if ymax_o else rmax
    x0 = COL_X0[col]
    xd = [px(x0 - 3.5 * PX_PER_K), px(x0 + 51 * PX_PER_K)]
    yd = [py(base), py(base - ymax * PX_PER_UNIT)]
    sx = "" if i == 1 else str(i)
    for layer in LAYERS:
        vals = data[layer]
        fig.add_trace(go.Bar(
            x=list(range(len(vals))), y=vals, width=1,
            marker=dict(color=BAR_COLORS[layer], line=dict(width=0.4, color="rgba(15,15,15,0.55)")),
            xaxis="x" + sx, yaxis="y" + sx, hoverinfo="skip",
        ))
    layout["xaxis" + sx] = dict(
        domain=xd, range=[-3.5, 51], anchor="y" + sx, showgrid=False, zeroline=False,
        showline=False, tickvals=X_TICKS, ticktext=[str(t) for t in X_TICKS], ticks="outside",
        ticklen=3, tickwidth=1, tickcolor="#222", tickfont=TICK_FONT, fixedrange=True,
    )
    show_y = col == 0
    yt = Y_TICKS_2 if rmax == 2 else Y_TICKS_1
    layout["yaxis" + sx] = dict(
        domain=yd, range=[0, ymax], anchor="x" + sx, showgrid=False, zeroline=False,
        visible=show_y, showline=show_y, linecolor="#222", linewidth=1.3,
        tickvals=yt, ticktext=["%.1f" % t for t in yt], ticks="outside", ticklen=4,
        tickwidth=1.2, tickcolor="#222", tickangle=-90, tickfont=TICK_FONT, fixedrange=True,
    )
    shapes.append(dict(type="line", xref="x" + sx, yref="y" + sx, x0=0, x1=50, y0=0, y1=0,
                       line=dict(color="#222", width=1.2)))
    annotations.append(dict(
        text=label, x=px(lx), y=py(ly), xref="paper", yref="paper", showarrow=False,
        xanchor=anchor, yanchor="middle", align=anchor,
        font=dict(family=TEXT_FONT, size=13, color="#2b2b2b"),
    ))

for name, gy in groups:
    annotations.append(dict(
        text=name, x=px(112), y=py(gy), xref="paper", yref="paper", showarrow=False,
        textangle=-90, xanchor="center", yanchor="middle",
        font=dict(family=TEXT_FONT, size=12.5, color="#2b2b2b"),
    ))

for (yy, xa, xb) in tree_h:
    shapes.append(dict(type="line", xref="paper", yref="paper", x0=px(xa - 1), x1=px(xb), y0=py(yy), y1=py(yy),
                       line=dict(color="#4d4d4d", width=2)))
for (xx, ya, yb) in tree_v:
    shapes.append(dict(type="line", xref="paper", yref="paper", x0=px(xx), x1=px(xx), y0=py(ya - 1), y1=py(yb + 1),
                       line=dict(color="#4d4d4d", width=2)))

# legend box
shapes.append(dict(type="rect", xref="paper", yref="paper", x0=px(565), x1=px(716), y0=py(457), y1=py(149),
                   line=dict(color="#808080", width=2), fillcolor="rgba(0,0,0,0)"))
for name, cy in [("SINE", 176), ("LINE", 211), ("LTR", 247), ("DNA", 282)]:
    shapes.append(dict(type="rect", xref="paper", yref="paper", x0=px(591.5), x1=px(611), y0=py(cy + 9.5), y1=py(cy - 9.5),
                       line=dict(color="#111", width=1.5), fillcolor=LEGEND_COLORS[name]))
    annotations.append(dict(text=name, x=px(624), y=py(cy), xref="paper", yref="paper", showarrow=False,
                            xanchor="left", yanchor="middle", font=dict(family=TEXT_FONT, size=16, color="#222")))

# axis-explanation arrows
shapes.append(dict(type="line", xref="paper", yref="paper", x0=px(619), x1=px(619), y0=py(408), y1=py(348),
                   line=dict(color="#111", width=5)))
shapes.append(dict(type="path", xref="paper", yref="paper",
                   path="M %f,%f L %f,%f L %f,%f Z" % (px(610.5), py(351), px(627.5), py(351), px(619), py(331)),
                   fillcolor="#111", line=dict(color="#111", width=0)))
shapes.append(dict(type="line", xref="paper", yref="paper", x0=px(616.5), x1=px(679), y0=py(405.5), y1=py(405.5),
                   line=dict(color="#111", width=5)))
shapes.append(dict(type="path", xref="paper", yref="paper",
                   path="M %f,%f L %f,%f L %f,%f Z" % (px(676), py(397), px(676), py(414), px(696), py(405.5)),
                   fillcolor="#111", line=dict(color="#111", width=0)))
for txt, tx in [("TE genome", 580), ("coverage", 602)]:
    annotations.append(dict(text=txt, x=px(tx), y=py(376), xref="paper", yref="paper", showarrow=False,
                            textangle=-90, xanchor="center", yanchor="middle",
                            font=dict(family=TEXT_FONT, size=15, color="#222")))
for txt, ty in [("K-values", 423), ("(0-50)", 445)]:
    annotations.append(dict(text=txt, x=px(652), y=py(ty), xref="paper", yref="paper", showarrow=False,
                            xanchor="center", yanchor="middle",
                            font=dict(family=TEXT_FONT, size=16, color="#222")))

layout["shapes"] = shapes
layout["annotations"] = annotations
fig.update_layout(**layout)
fig.write_html(
    "out.html",
    config={"displayModeBar": False},
    post_script="document.body.style.margin='0px';document.body.style.padding='0px';"
                "document.body.style.overflow='hidden';",
)
